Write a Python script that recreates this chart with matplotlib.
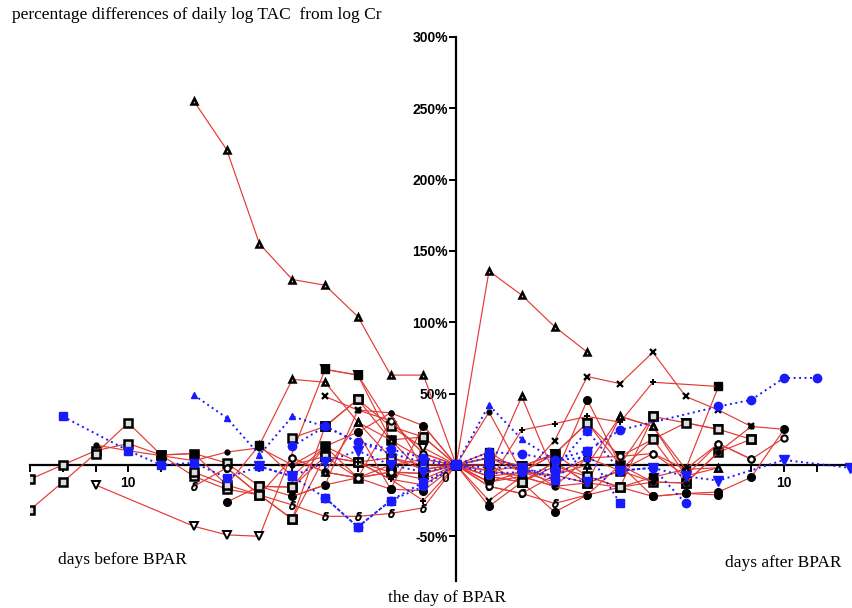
import matplotlib
matplotlib.use("Agg")
import matplotlib.pyplot as plt

# ---------------- data (days relative to BPAR, % difference) ----------------
r01_x = [-8, -7, -6, -5, -4, -3, -2, -1, 0, 1, 2, 3, 4]
r01_y = [255, 221, 155, 130, 126, 104, 63, 63, 0, 136, 119, 97, 79]
r02_x = [-13, -12, -11, -10, -9, -8, -7, -6, -5, -4, -3, -2, -1, 0, 1, 2, 3, 4, 5, 6, 7]
r02_y = [-10, 0, 10, 15, 7, 8, 1.4, -15, -15.5, 6, -9, -5, -6, 0, -8, -12, 2, -12.6, -15.6, -12, -12.6]
r03_x = [-13, -12, -11, -10, -9, -8, -7, -6, -5, -4, -3, -2, -1, 0]
r03_y = [-31.5, -12, 8, 29.5, 7, -8, -17, -21, -38, 27, 46, 17.5, 19.6, 0]
r04_x = [-11, -8, -7, -6, -4, -3, -2, -1, 0, 1, 2, 3, 4, 5, 6, 7, 8]
r04_y = [-14, -43, -49, -50, 67, 63, 27, 12, 0, 5, -1, 7.7, 29.5, 6, 18, 29.5, 25]
r05_x = [-11, -10, -8, -7, -6, -5, -4, -3, -2, -1, 0, 1, 2, 3]
r05_y = [14, 10, 3, 9, 12, 0, 13, 23, 36.5, 27.5, 0, 37, -5, -12]
r06_x = [-7, -6, -5, -4, -3, -2, -1, 0, 1, 2, 3, 4, 5, 6, 7, 8]
r06_y = [-26, -15, -22, -14, -9, -17, -18, 0, -29, -12, -33, -21, -15.6, -22, -20, -21]
r07_x = [-6, -5, -4, -3, -2, -1, 0, 1, 2, 3, 4, 5, 6, 7, 8]
r07_y = [14, 60, 58, 30, 5, -3, 0, -4, 48, -7, -12.6, 34, 27, -7.7, -2]
r08_x = [-4, -3, -2, -1, 0, 1, 2, 3, 4, 5, 6, 7, 8, 9]
r08_y = [48, 38.5, 31, 8, 0, -25, -8, 17, 62, 57, 79, 48, 38.5, 27]
r09_x = [-8, -7, -6, -5, -4, -3, -2, -1, 0, 1, 2, 3, 4]
r09_y = [-15, -2, -21, -28, -36, -36, -34, -30, 0, -15, -20, -27, -21]
r10_x = [-5, -4, -3, -2, -1, 0, 1, 2, 3, 4, 5, 6, 7, 8, 9]
r10_y = [19, 27, 46, 27, 19.6, 0, 5, -1, 7.7, 29.5, 0, 34, 29.5, 25, 18]
r11_x = [-4, -3, -2, -1, 0, 1, 2, 3, 4, 5, 6, 7, 8]
r11_y = [67, 63, 17.5, 4, 0, 9, -5, 7.7, -8, -15.6, -8.6, -3, 55]
r12_x = [-5, -4, -3, -2, -1, 0, 1, 2, 3, 4, 5, 6, 8]
r12_y = [0, 6, 2, -10, -14, 0, -12, 24.5, 29, 34, 30, 58, 55]
r13_x = [-5, -4, -3, -2, -1, 0, 1, 2, 3, 4, 5, 6, 7, 8, 9, 10]
r13_y = [5, -5, -9, 31, 8, 0, -4, -8, -15, 5, 6, 8, -7.7, 15, 4, 19]
r14_x = [-6, -5, -4, -3, -2, -1, 0, 1, 2, 3, 4, 5, 6, 7, 8, 9]
r14_y = [-15, -15.5, 13, 2, -5, -6, 0, 0, -12, 2, -12.6, -4, 18, -12.6, 9, 18]
r15_x = [-3, -2, -1, 0, 1, 2, 3, 4, 5, 6, 7, 8, 9, 10]
r15_y = [23, -17, 27.5, 0, -12, -5, -8, 45.6, 0, -22, -20, -19, -8.6, 25]
r16_x = [-9, -8, -7, -6, -5, -4, -3, -2, -1, 0, 1, 2, 3]
r16_y = [7, 8, -14, 14, -8, 13, -9, 0, 4, 0, -8, -5, 7.7]
r17_x = [-7, -6, -5, -4, -3, -2, -1, 0, 1, 2, 3, 4, 5, 6, 7, 8, 9]
r17_y = [-2, -21, 5, -5, -9, -5, -10, 0, -15, -20, -7, 5, -4, 8, -3, 15, 4]
r18_x = [-5, -4, -3, -2, -1, 0, 1, 2, 3, 4, 5, 6, 7, 8, 9, 10]
r18_y = [-22, -14, 38.5, 36.5, -3, 0, -12, -8, -15, -12.6, -4, -12, -12.6, 9, 27, 25]
r19_x = [-8, -7, -6, -5, -4, -3, -2, -1, 0, 1, 2, 3, 4, 5, 6]
r19_y = [-5, -14, -21, -38, 6, 2, 5, 0, 0, -8, -12, -1, -8, -15.6, 34]
r20_x = [-3, -2, -1, 0, 1, 2, 3, 4, 5, 6]
r20_y = [2, -10, -25, 0, -4, -1, -15, -21, 0, -12]
r21_x = [-4, -3, -2, -1, 0, 1, 2, 3, 4, 5, 6, 7, 8]
r21_y = [-5, 30, 17.5, -6, 0, 5, -5, -7, 0, 34, 27, -3, -2]

b01_x = [-5, -4, -3, -2, -1, 0, 1, 2, 3, 4, 5, 8, 9, 10, 11]
b01_y = [13, 27, 16, 11, 5, 0, 9, 7.7, 3.5, 10, 24.5, 41, 45.6, 61, 61]
b02_x = [-12, -10, -9, -8, -7, -6, -5, -4, -3, -2, -1, 0, 1, 2, 3, 4, 5]
b02_y = [34, 10, 0, 1.5, -9, -1, -8, -23, -43.5, -25, -12, 0, 5, -2, -10.5, 10, -27]
b03_x = [-8, -7, -6, -5, -4, -3, -2, -1, 0, 1, 2, 3, 4]
b03_y = [49, 33, 7, 34, 27, 16, 8, 2, 0, 42, 18, 3.5, 5]
b04_x = [-6, -5, -4, -3, -2, -1, 0, 1, 2, 3, 4, 5, 6, 7, 8, 10, 12]
b04_y = [-1, -8, 2, 10, 0, -5, 0, -2, -2, -8, -12, -4, -2, -8, -11, 3.5, -2]
b05_x = [-4, -3, -2, -1, 0, 1, 2, 3, 4, 5, 6, 7]
b05_y = [-23, -43.5, -25, -15, 0, -6, -5, -3, 24, -4, -2, -27]

y_ticks = [-50, 50, 100, 150, 200, 250, 300]
y_tick_labels = ["-50%", "50%", "100%", "150%", "200%", "250%", "300%"]
x_label_ticks = [-10, 10]
x_label_texts = ["10", "10"]

# ---------------- styles ----------------
RED = "#e23b36"
BLUE = "#1a1aff"
mstyle = {
    "^w": dict(marker="^", mfc="#dddddd", mec="black", ms=5, mew=1.8),
    "vw": dict(marker="v", mfc="white", mec="black", ms=6, mew=1.4),
    "sw": dict(marker="s", mfc="#dddddd", mec="black", ms=5.5, mew=1.8),
    "S": dict(marker="s", mfc="black", mec="black", ms=5.5, mew=1),
    "o": dict(marker="o", mfc="black", mec="black", ms=5.5, mew=1),
    ".": dict(marker="o", mfc="black", mec="black", ms=3.5, mew=1),
    "ow": dict(marker="o", mfc="white", mec="black", ms=4.5, mew=1.5),
    "x": dict(marker="x", mfc="black", mec="black", ms=5, mew=1.6),
    "+": dict(marker="+", mfc="black", mec="black", ms=5, mew=1.4),
    "d": dict(marker=r"$\delta$", mfc="black", mec="black", ms=6, mew=0.6),
}
bstyle = {
    "o": dict(marker="o", ms=6),
    "s": dict(marker="s", ms=5.5),
    "^": dict(marker="^", ms=4.5),
    "v": dict(marker="v", ms=6.5),
    "D": dict(marker="D", ms=4.5),
}

red_series = [
    (r01_x, r01_y, "^w"), (r02_x, r02_y, "sw"), (r03_x, r03_y, "sw"),
    (r04_x, r04_y, "vw"), (r05_x, r05_y, "."), (r06_x, r06_y, "o"),
    (r07_x, r07_y, "^w"), (r08_x, r08_y, "x"), (r09_x, r09_y, "d"),
    (r10_x, r10_y, "sw"), (r11_x, r11_y, "S"), (r12_x, r12_y, "+"),
    (r13_x, r13_y, "ow"), (r14_x, r14_y, "sw"), (r15_x, r15_y, "o"),
    (r16_x, r16_y, "S"), (r17_x, r17_y, "ow"), (r18_x, r18_y, "."),
    (r19_x, r19_y, "sw"), (r20_x, r20_y, "+"), (r21_x, r21_y, "^w"),
]
blue_series = [
    (b01_x, b01_y, "o"), (b02_x, b02_y, "s"), (b03_x, b03_y, "^"),
    (b04_x, b04_y, "v"), (b05_x, b05_y, "o"),
]

# ---------------- figure ----------------
W, H = 853, 608
fig = plt.figure(figsize=(W / 100, H / 100), dpi=100)
x0_px, x1_px = 30, 853
y_top_px, y_bot_px = 37, 581
ax = fig.add_axes([x0_px / W, 1 - y_bot_px / H, (x1_px - x0_px) / W, (y_bot_px - y_top_px) / H])
px_per_day = 32.8
px_per_pct = 71.3 / 50
ax.set_xlim(-(456 - x0_px) / px_per_day, (x1_px - 456) / px_per_day)
ax.set_ylim(-(y_bot_px - 465) / px_per_pct, 300)

for xs, ys, key in red_series:
    ax.plot(xs, ys, color=RED, lw=0.85, zorder=2, **mstyle[key])
for xs, ys, key in blue_series:
    ax.plot(xs, ys, color=BLUE, lw=1.4, ls=(0, (1, 1.8)), mfc=BLUE, mec=BLUE,
            zorder=3, **bstyle[key])

for s in ["top", "right"]:
    ax.spines[s].set_visible(False)
ax.spines["left"].set_position(("data", 0))
ax.spines["bottom"].set_position(("data", 0))
ax.spines["left"].set_linewidth(1.6)
ax.spines["bottom"].set_linewidth(1.6)
ax.spines["left"].set_zorder(1)
ax.spines["bottom"].set_zorder(1)

tick_font = dict(family="Liberation Sans", weight="bold", size=10)
ax.set_yticks(y_ticks)
ax.set_yticklabels(y_tick_labels, **tick_font)
ax.tick_params(axis="y", direction="out", length=5, width=1.4, pad=1)

all_days = [d for d in range(-13, 13) if d != 0]
ax.set_xticks(all_days, minor=True)
ax.set_xticks(x_label_ticks)
ax.set_xticklabels(x_label_texts, **tick_font)
ax.tick_params(axis="x", which="both", direction="out", length=5, width=1.4, pad=3)
ax.text(-0.2, -4, "0", ha="right", va="top", **tick_font)

serif = dict(family="Liberation Serif", size=12.5)
fig.text(12 / W, 1 - 15 / H, "percentage differences of daily log TAC  from log Cr",
         ha="left", va="center", **serif)
fig.text(122 / W, 1 - 560 / H, "days before BPAR", ha="center", va="center", **serif)
fig.text(783 / W, 1 - 563 / H, "days after BPAR", ha="center", va="center", **serif)
fig.text(447 / W, 1 - 598 / H, "the day of BPAR", ha="center", va="center", **serif)

fig.savefig("out.png", dpi=100)
